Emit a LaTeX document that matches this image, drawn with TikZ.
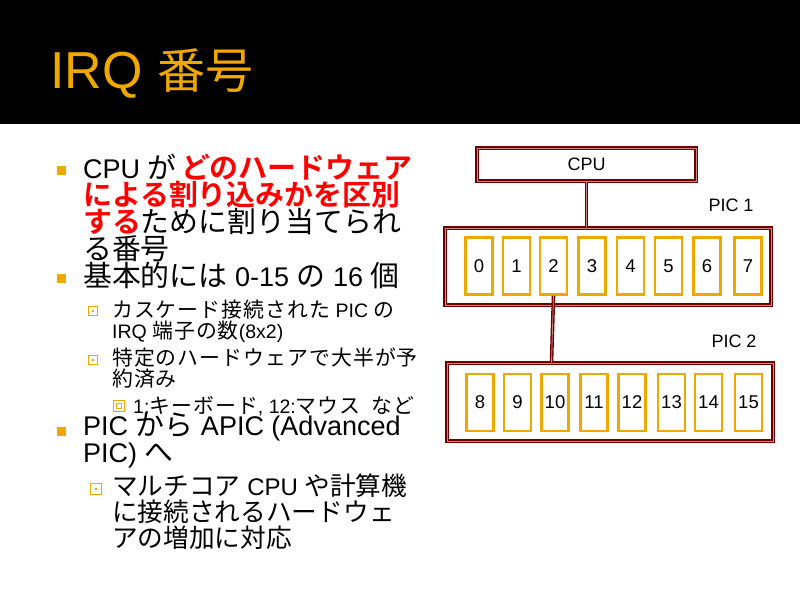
\documentclass[tikz,border=0pt]{standalone}
\usepackage{fontspec}
\setmainfont{Liberation Sans}
\newfontfamily\jpfont{Noto Sans CJK JP}[Scale=1.07, BoldFont={Noto Sans CJK JP Bold}]
\newfontfamily\jpwide{Noto Sans CJK JP}[Scale=1.07, LetterSpace=5]
\definecolor{irqorange}{HTML}{F0A800}
\definecolor{boxred}{HTML}{6E0000}
\definecolor{boxpink}{HTML}{C48A8A}
\newcommand\jpsel{\jpfont}
\newcommand\jp[1]{{\jpsel #1}}
\newcommand\hl[1]{{\color{red}\jpfont\bfseries #1}}
\tikzset{
  item/.style={anchor=base west, inner sep=0pt, align=left, font=\fontsize{27}{27}\selectfont},
  subitem/.style={item, font=\fontsize{19.5}{19}\selectfont\let\jpsel\jpwide},
  picbox/.style={draw=boxred, double=boxpink, double distance=1pt, line width=1.4pt, inner sep=0pt},
  cell/.style={draw=irqorange, line width=2.6pt, minimum width=27pt, minimum height=57pt, inner sep=0pt, font=\fontsize{18.5}{18}\selectfont},
  wire/.style={draw=boxred, double=boxpink, double distance=0.8pt, line width=1.4pt},
  piclabel/.style={inner sep=0pt, font=\fontsize{18}{18}\selectfont}
}
\begin{document}
\begin{tikzpicture}[x=1pt,y=-1pt]
  \useasboundingbox (0,0) rectangle (800,600);
  \fill[black] (0,0) rectangle (800,124);
  \node[anchor=base west, inner sep=0pt, text=irqorange, font=\fontsize{52}{52}\selectfont] (title) at (50,88) {IRQ {\fontsize{45}{45}\jpfont 番号}};

  \node[item] (b1) at (83,259) {CPU \jp{が}\,\hl{どのハードウェア}\\\hl{による割り込みかを区別}\\\hl{する}\jp{ために割り当てられ}\\\jp{る番号}};
  \node[item] (b2) at (83,286) {\jp{基本的には} 0-15 \jp{の} 16 \jp{個}};
  \node[subitem] (s1) at (112,338) {\jp{カスケード接続された} PIC \jp{の}\\IRQ \jp{端子の数}(8x2)};
  \node[subitem] (s2) at (112,386) {\jp{特定のハードウェアで大半が予}\\\jp{約済み}};
  \node[subitem] (s3) at (133,413) {1:\jp{キーボード}, 12:\jp{マウス}~~\jp{など}};
  \node[item, font=\fontsize{27}{23}\selectfont] (b3) at (83,462) {PIC \jp{から} APIC (Advanced\\PIC) \jp{へ}};
  \node[item, font=\fontsize{24}{26}\selectfont] (s4) at (112,547) {\jp{マルチコア} CPU \jp{や計算機}\\\jp{に接続されるハードウェ}\\\jp{アの増加に対応}};

  \foreach \y in {178,286,439}
    \fill[irqorange] (57,\y-12) rectangle (66,\y-3);
  \foreach \y in {319,368} {
    \draw[irqorange, line width=1pt] (88.5,\y-12.5) rectangle (97.5,\y-3.5);
    \fill[irqorange] (92,\y-9) rectangle (94,\y-7);
  }
  \draw[irqorange, line width=1pt] (90.5,483.5) rectangle (101.5,494.5);
  \fill[irqorange] (95,488) rectangle (97,490);
  \draw[irqorange, line width=1pt] (113.5,400.5) rectangle (124.5,411.5);
  \draw[irqorange, line width=1.5pt] (116.5,403.5) rectangle (121.5,408.5);

  \node[picbox, minimum width=219pt, minimum height=33pt, font=\fontsize{18}{18}\selectfont] (cpu) at (586.5,164.5) {CPU};
  \node[picbox, minimum width=326pt, minimum height=77pt] (pic1) at (608,266.5) {};
  \node[picbox, minimum width=326pt, minimum height=78pt] (pic2) at (610,402) {};
  \node[piclabel] (pic1lbl) at (731,205) {PIC 1};
  \node[piclabel] (pic2lbl) at (734,341) {PIC 2};

  \foreach \x [count=\i from 0] in {479,516.5,553.5,592,630.5,668.5,707,748}
    \node[cell] (c\i) at (\x,266) {\i};
  \foreach \x [count=\i from 8] in {480,517.5,555,594,632,671.5,708.5,748.5}
    \node[cell] (c\i) at (\x,402.5) {\i};

  \draw[wire] (cpu.south) -- (cpu.south |- pic1.north);
  \draw[wire] (c2.south) -- ([xshift=-2pt]c2.south |- pic2.north);
\end{tikzpicture}
\end{document}
